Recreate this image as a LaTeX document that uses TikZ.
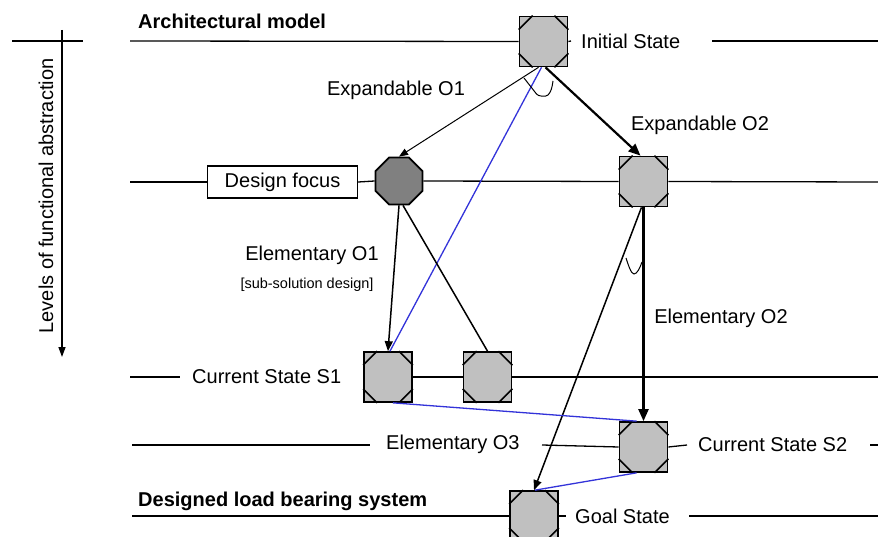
\documentclass[tikz,border=0pt]{standalone}
\usepackage{fontspec}
\setmainfont{Liberation Sans}
\usetikzlibrary{arrows.meta,shapes.geometric,calc}

\definecolor{stategray}{HTML}{C0C0C0}
\definecolor{focusgray}{HTML}{808080}
\definecolor{linkblue}{rgb}{0.2,0.2,0.85}

\tikzset{
  every node/.style={font=\fontsize{20}{24}\selectfont},
  level/.style={line width=1.3pt},
  statebox/.style={
    rectangle, draw, line width=1.7pt, fill=stategray,
    minimum width=48pt, minimum height=50pt, inner sep=0pt},
  cutline/.style={line width=1.5pt},
  focusoct/.style={regular polygon, regular polygon sides=8, draw, line width=1.7pt,
    fill=focusgray, minimum size=51pt, inner sep=0pt},
  tag/.style={inner sep=0pt},
  small/.style={inner sep=0pt, font=\fontsize{14.5}{17}\selectfont},
  heading/.style={inner sep=0pt, font=\fontsize{20}{24}\selectfont\bfseries},
  thinarrow/.style={line width=1pt, -{Triangle[length=9pt,width=7pt]}},
  midarrow/.style={line width=1.5pt, -{Triangle[length=10pt,width=8pt]}},
  thickarrow/.style={line width=2.2pt, -{Triangle[length=12pt,width=10pt]}},
  plainlink/.style={line width=1.5pt},
  bluelink/.style={line width=1.3pt, draw=linkblue},
}

\begin{document}
\begin{tikzpicture}[x=1pt, y=-1pt]
\useasboundingbox (0,0) rectangle (878,537);

% vertical axis of abstraction levels
\coordinate (axtop) at (62,30);
\coordinate (axbot) at (62,357);
\coordinate (axl) at (12,41);
\coordinate (axr) at (83,41);
\draw[level] (axl) -- (axr);
\draw[line width=1.3pt, -{Triangle[length=10pt,width=7pt]}] (axtop) -- (axbot);
\node[tag, rotate=90] (axlabel) at (46,196) {Levels of functional abstraction};

% state nodes
\node[statebox] (init) at (543.5,41.5) {};
\node[focusoct] (dfoc) at (399,181) {};
\node[statebox] (o2) at (643.5,181.5) {};
\node[statebox] (s1) at (388,377) {};
\node[statebox] (b2) at (487.5,377) {};
\node[statebox] (s2) at (643.5,447) {};
\node[statebox] (goal) at (534,516) {};
\node[draw, line width=1.4pt, minimum width=150pt, minimum height=32pt, inner sep=0pt] (dbox) at (282.5,182) {Design focus};

% octagonal cuts in the corners of every state box
\foreach \n in {init,o2,s1,b2,s2,goal}{
  \draw[cutline]
    ([xshift=14pt]\n.north west) -- ([yshift=-14pt]\n.north west)
    ([xshift=-14pt]\n.north east) -- ([yshift=-14pt]\n.north east)
    ([xshift=14pt]\n.south west) -- ([yshift=14pt]\n.south west)
    ([xshift=-14pt]\n.south east) -- ([yshift=14pt]\n.south east);
}

% level 1: architectural model
\node[heading, anchor=west] (archlbl) at (138,21) {Architectural model};
\coordinate (l1a) at (130,41);
\coordinate (l1b) at (571,41);
\coordinate (l1c) at (712,41);
\coordinate (l1d) at (878,41);
\draw[level] (l1a) -- (init.west);
\draw[level] (init.east) -- (l1b);
\node[tag, anchor=west] (initlbl) at (581,41) {Initial State};
\draw[level] (l1c) -- (l1d);

% level 2
\coordinate (l2a) at (130,182);
\coordinate (l2d) at (878,182);
\draw[level] (l2a) -- (dbox.west);
\draw[level] (dbox.east) -- (dfoc.west);
\draw[level] (dfoc.east) -- (o2.west);
\draw[level] (o2.east) -- (l2d);

% level 3
\coordinate (l3a) at (130,377);
\coordinate (l3b) at (180,377);
\coordinate (l3d) at (878,377);
\draw[level] (l3a) -- (l3b);
\node[tag, anchor=west] (s1lbl) at (192,377) {Current State S1};
\draw[level] (s1.east) -- (b2.west);
\draw[level] (b2.east) -- (l3d);

% level 4
\coordinate (l4a) at (132,445);
\coordinate (l4b) at (370,445);
\coordinate (l4c) at (542,445);
\coordinate (l4e) at (687,445);
\coordinate (l4f) at (870,445);
\coordinate (l4g) at (878,445);
\draw[level] (l4a) -- (l4b);
\node[tag, anchor=west] (o3lbl) at (386,444) {Elementary O3};
\draw[level] (l4c) -- (s2.west);
\draw[level] (s2.east) -- (l4e);
\node[tag, anchor=west] (s2lbl) at (698,445) {Current State S2};
\draw[level] (l4f) -- (l4g);

% level 5: designed load bearing system
\node[heading, anchor=west] (sysl) at (138,501) {Designed load bearing system};
\coordinate (l5a) at (132,516);
\coordinate (l5b) at (566,516);
\coordinate (l5c) at (689,516);
\coordinate (l5d) at (878,516);
\draw[level] (l5a) -- (goal.west);
\draw[level] (goal.east) -- (l5b);
\node[tag, anchor=west] (goallbl) at (575,516) {Goal State};
\draw[level] (l5c) -- (l5d);

% operator labels
\node[tag] (exp1) at (396,90) {Expandable O1};
\node[tag] (exp2) at (700,125) {Expandable O2};
\node[tag] (el1) at (312,255) {Elementary O1};
\node[small] (el1sub) at (307,285) {[sub-solution design]};
\node[tag] (el2) at (721,318) {Elementary O2};

% operator connectors
\draw[thinarrow] ([xshift=-5pt]init.south) -- (dfoc.north);
\draw[thickarrow] ([xshift=2pt]init.south) -- ([xshift=-3pt]o2.north);
\draw[bluelink] ([xshift=-2pt]init.south) -- ([xshift=2pt]s1.north);
\draw[midarrow] (dfoc.south) -- (s1.north);
\draw[plainlink] ([xshift=4pt]dfoc.south) -- (b2.north);
\draw[thickarrow] (o2.south) -- (s2.north);
\draw[midarrow] ([xshift=-2pt]o2.south) -- (goal.north);
\draw[bluelink] ([xshift=5pt]s1.south) -- ([xshift=-7pt]s2.north);
\draw[bluelink] ([xshift=-7pt]s2.south) -- ([xshift=1pt]goal.north);

% alternative-branch marks
\draw[line width=1pt] (524,78) -- (536.5,94) .. controls (538,96.5) and (546,97) .. (548,95) .. controls (551,92) and (552,88) .. (553,81);
\draw[line width=1pt] (626,258) .. controls (628,264) and (631,274) .. (634,274) .. controls (637,274) and (640,268) .. (642,262);
\end{tikzpicture}
\end{document}
